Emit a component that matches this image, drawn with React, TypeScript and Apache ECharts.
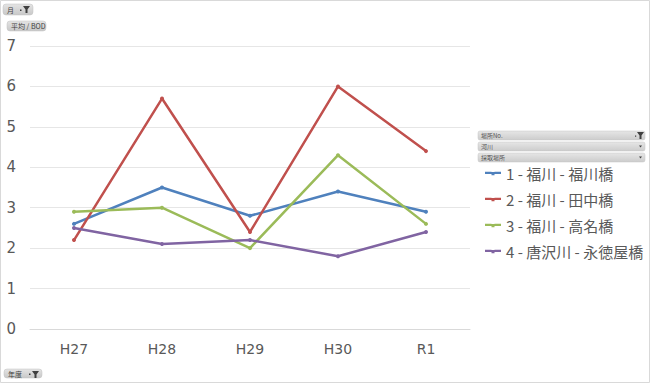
import React, { useEffect, useRef } from "react";
import * as echarts from "echarts";

const categories = ["H27", "H28", "H29", "H30", "R1"];
const seriesNames = [
  "1 - 福川 - 福川橋",
  "2 - 福川 - 田中橋",
  "3 - 福川 - 高名橋",
  "4 - 唐沢川 - 永徳屋橋",
];
const site1 = [2.6, 3.5, 2.8, 3.4, 2.9];
const site2 = [2.2, 5.7, 2.4, 6.0, 4.4];
const site3 = [2.9, 3.0, 2.0, 4.3, 2.6];
const site4 = [2.5, 2.1, 2.2, 1.8, 2.4];
const colors = ["#4F81BD", "#C0504D", "#9BBB59", "#8064A2"];
const yTicks = { min: 0, max: 7, interval: 1 };

const FONT = "'Noto Sans CJK JP', 'DejaVu Sans', sans-serif";
const LEGEND_ICON =
  "path://M0,6.2 L6.5,6.2 L6.5,6.6 L9.5,6.6 L9.5,6.2 L16,6.2 L16,8.6 L9.5,8.6 L9.5,9.8 L6.5,9.8 L6.5,8.6 L0,8.6 Z";

function funnel(x: number, y: number) {
  return {
    type: "polygon",
    shape: {
      points: [
        [x, y],
        [x + 7, y],
        [x + 4.5, y + 3.5],
        [x + 4.5, y + 7],
        [x + 2.5, y + 7],
        [x + 2.5, y + 3.5],
      ],
    },
    style: { fill: "#404040" },
  };
}

function button(x: number, y: number, w: number, h: number, label: string, withFunnel: boolean) {
  const children: any[] = [
    {
      type: "rect",
      shape: { x, y, width: w, height: h, r: 3 },
      style: {
        fill: new echarts.graphic.LinearGradient(0, 0, 0, 1, [
          { offset: 0, color: "#e4e4e4" },
          { offset: 1, color: "#c8c8c8" },
        ]),
        stroke: "#c0c0c0",
        lineWidth: 0.5,
      },
    },
    {
      type: "text",
      style: {
        x: x + 4,
        y: y + h / 2,
        text: label,
        fill: "#404040",
        font: `7px ${FONT}`,
        verticalAlign: "middle",
      },
    },
  ];
  if (withFunnel) {
    children.push({
      type: "rect",
      shape: { x: x + w - 13, y: y + h / 2, width: 1.5, height: 1.5 },
      style: { fill: "#404040" },
    });
    children.push(funnel(x + w - 10, y + 2));
  }
  return { type: "group", children };
}

function dropdown(x: number, y: number, w: number, h: number, label: string, withFunnel: boolean) {
  const children: any[] = [
    {
      type: "rect",
      shape: { x, y, width: w, height: h, r: 2 },
      style: {
        fill: new echarts.graphic.LinearGradient(0, 0, 0, 1, [
          { offset: 0, color: "#e6e6e6" },
          { offset: 1, color: "#cccccc" },
        ]),
        stroke: "#c4c4c4",
        lineWidth: 0.5,
      },
    },
    {
      type: "text",
      style: {
        x: x + 3,
        y: y + h / 2,
        text: label,
        fill: "#505050",
        font: `6px ${FONT}`,
        verticalAlign: "middle",
      },
    },
  ];
  if (withFunnel) {
    children.push({
      type: "rect",
      shape: { x: x + w - 10, y: y + h / 2, width: 1.2, height: 1.2 },
      style: { fill: "#404040" },
    });
    children.push(funnel(x + w - 8, y + 1));
  } else {
    children.push({
      type: "polygon",
      shape: {
        points: [
          [x + w - 6, y + h / 2 - 1],
          [x + w - 3, y + h / 2 - 1],
          [x + w - 4.5, y + h / 2 + 1],
        ],
      },
      style: { fill: "#404040" },
    });
  }
  return { type: "group", children };
}

export default function App() {
  const ref = useRef<HTMLDivElement>(null);
  useEffect(() => {
    if (!ref.current) return;
    const chart = echarts.init(ref.current, undefined, { renderer: "svg" });
    const data = [site1, site2, site3, site4];
    chart.setOption({
      animation: false,
      backgroundColor: "#ffffff",
      color: colors,
      textStyle: { fontFamily: FONT },
      grid: { left: 30, top: 46, width: 440, height: 283, containLabel: false },
      xAxis: {
        type: "category",
        data: categories,
        boundaryGap: true,
        axisLine: { show: true, lineStyle: { color: "#d9d9d9", width: 1 } },
        axisTick: { show: false },
        axisLabel: { color: "#595959", fontSize: 14, margin: 13, fontFamily: "'DejaVu Sans', sans-serif" },
        splitLine: { show: false },
      },
      yAxis: {
        type: "value",
        min: yTicks.min,
        max: yTicks.max,
        interval: yTicks.interval,
        axisLine: { show: false },
        axisTick: { show: false },
        axisLabel: {
          color: "#595959",
          fontSize: 15,
          margin: 14,
          align: "right",
          fontFamily: "'DejaVu Sans', sans-serif",
        },
        splitLine: { show: true, lineStyle: { color: "#e6e6e6", width: 1 } },
      },
      legend: {
        orient: "vertical",
        left: 480,
        top: 161,
        itemWidth: 16,
        itemHeight: 14,
        itemGap: 11,
        textStyle: { color: "#595959", fontSize: 15, fontFamily: FONT },
        data: seriesNames.map((name) => ({ name, icon: LEGEND_ICON })),
      },
      series: seriesNames.map((name, i) => ({
        name,
        type: "line",
        data: data[i],
        symbol: "circle",
        symbolSize: 4,
        lineStyle: { width: 2.5, color: colors[i] },
        itemStyle: { color: colors[i] },
      })),
      graphic: [
        {
          type: "rect",
          shape: { x: 0.5, y: 0.5, width: 649, height: 382 },
          style: { fill: "none", stroke: "#d9d9d9", lineWidth: 1 },
          silent: true,
        },
        button(3, 4, 30, 11, "月", true),
        button(7, 21, 39, 10, "平均 / BOD", false),
        button(4, 369, 38, 9, "年度", true),
        dropdown(478, 131, 167, 9, "場所No.", true),
        dropdown(478, 142, 167, 9, "河川", false),
        dropdown(478, 153, 167, 9, "採取場所", false),
      ],
    });
    return () => chart.dispose();
  }, []);
  return (
    <div
      ref={ref}
      style={{ position: "fixed", left: 0, top: 0, width: 650, height: 383 }}
    />
  );
}
